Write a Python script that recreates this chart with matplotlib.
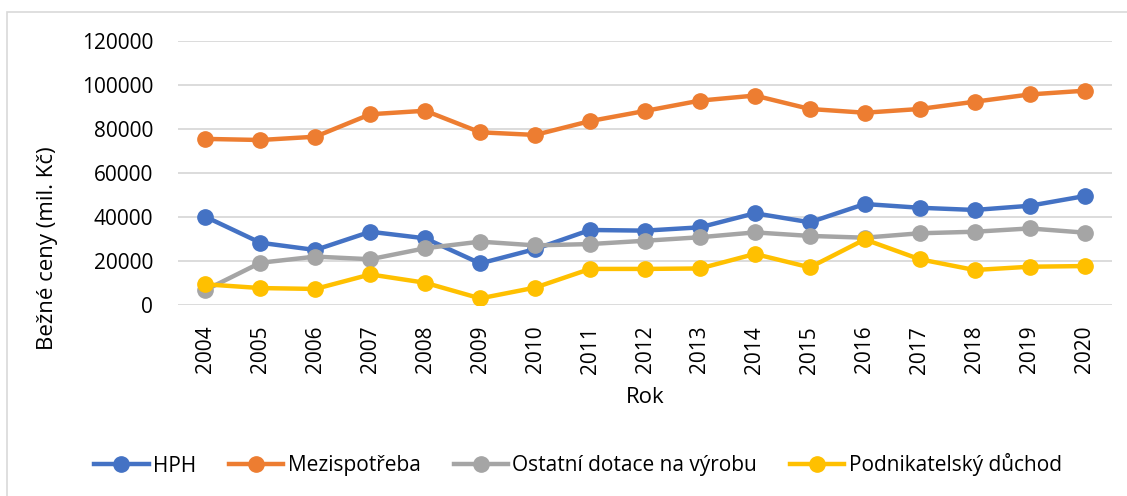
import matplotlib
matplotlib.use("Agg")
import matplotlib.pyplot as plt
from matplotlib.patches import Rectangle

plt.rcParams['font.family'] = ['Open Sans', 'DejaVu Sans']

years = [str(y) for y in range(2004, 2021)]
hph = [40100, 28300, 25000, 33300, 30300, 18900, 25400, 34100, 33800, 35300,
       41700, 37600, 45900, 44200, 43200, 45100, 49500]
mezispotreba = [75500, 75000, 76500, 86700, 88300, 78500, 77300, 83600, 88200, 92900,
                95200, 89100, 87400, 89100, 92400, 95700, 97400]
dotace = [6800, 19200, 22000, 20800, 25800, 28800, 27100, 27700, 29200, 30800,
          33000, 31400, 30600, 32600, 33300, 34800, 32900]
duchod = [9400, 7700, 7300, 13900, 10100, 3000, 7900, 16400, 16400, 16600,
          23200, 17100, 29800, 20800, 15900, 17400, 17700]

series_names = ["HPH", "Mezispotřeba", "Ostatní dotace na výrobu", "Podnikatelský důchod"]
colors = ["#4472C4", "#ED7D31", "#A5A5A5", "#FFC000"]
yticks = [0, 20000, 40000, 60000, 80000, 100000, 120000]

W, H = 1127, 496
fig = plt.figure(figsize=(W / 100, H / 100), dpi=100)
fig.patches.append(Rectangle((7 / W, -0.1), 1.2, 1 - 12 / H + 0.1, transform=fig.transFigure,
                             fill=False, edgecolor="#D9D9D9", linewidth=1.2))

ax = fig.add_axes([178 / W, 1 - 305 / H, (1112 - 178) / W, (305 - 41) / H])
x = list(range(len(years)))
for vals, name, c in zip([hph, mezispotreba, dotace, duchod], series_names, colors):
    ax.plot(x, vals, color=c, linewidth=3.2, marker="o", markersize=11, label=name, zorder=3)

ax.set_xlim(-0.5, len(years) - 0.5)
ax.set_ylim(0, 120000)
ax.set_yticks(yticks)
ax.set_yticklabels([str(v) for v in yticks], fontsize=15)
ax.set_xticks(x)
ax.set_xticklabels(years, rotation=90, fontsize=15)
ax.grid(axis="y", color="#D9D9D9", linewidth=1.3, zorder=0)
for s in ax.spines.values():
    s.set_visible(False)
ax.tick_params(axis="both", length=0, colors="black")
ax.tick_params(axis="y", pad=18)
ax.tick_params(axis="x", pad=15)
ax.set_xlabel("Rok", fontsize=16, labelpad=10)
ax.set_ylabel("Bežné ceny (mil. Kč)", fontsize=16, labelpad=10)
ax.yaxis.set_label_coords(58 / W, 0.5, transform=fig.transFigure)

fig.legend(*ax.get_legend_handles_labels(), loc="center", ncol=4,
           bbox_to_anchor=(578 / W, 1 - 465 / H), frameon=False, fontsize=15,
           handlelength=2.6, handletextpad=0.2, columnspacing=1.6, borderaxespad=0)

fig.savefig("out.png", dpi=100)
